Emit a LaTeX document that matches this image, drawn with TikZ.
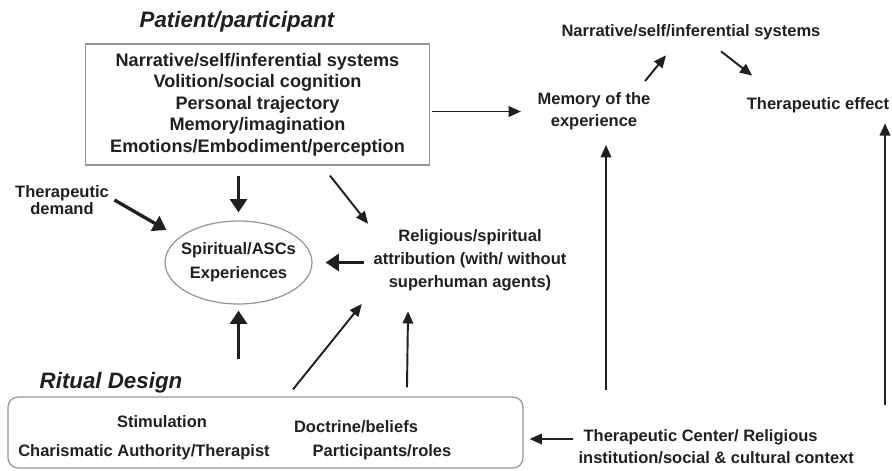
\documentclass[tikz,border=0pt]{standalone}
\usepackage{fontspec}
\setmainfont{Liberation Sans}
\usetikzlibrary{arrows.meta,shapes.geometric}
\definecolor{ink}{RGB}{35,31,32}
\definecolor{frame}{RGB}{150,150,150}

\begin{document}
\begin{tikzpicture}[x=0.02cm, y=-0.02cm, >={Triangle[length=7pt,width=6pt]},
    txt/.style={font=\fontsize{9.4}{12.7}\selectfont\bfseries, text=ink, align=center, inner sep=3pt},
    heading/.style={font=\fontsize{12.7}{15}\selectfont\bfseries\itshape, text=ink, inner sep=0pt},
    lightarrow/.style={->, draw=ink, line width=1.1pt},
    heavyarrow/.style={-{Triangle[length=7.5pt,width=9.5pt]}, draw=ink, line width=1.9pt}]

    \useasboundingbox (0,0) rectangle (892,470);

    \node[heading] (pattitle) at (237,22) {Patient/participant};

    \node[draw=frame, line width=0.7pt, minimum width=6.88cm, minimum height=2.42cm, txt,
        font=\fontsize{10.3}{12.2}\selectfont\bfseries]
        (patient) at (257.5,104.5) {Narrative/self/inferential systems\\ Volition/social cognition\\
        Personal trajectory\\ Memory/imagination\\ Emotions/Embodiment/perception};

    \node[ellipse, draw=frame, line width=0.7pt, minimum width=2.94cm, minimum height=1.66cm,
        txt, inner xsep=-0.15cm, inner ysep=0pt, font=\fontsize{9.4}{13.6}\selectfont\bfseries]
        (spirit) at (238.5,262.5) {Spiritual/ASCs\\ Experiences};

    \node[txt, font=\fontsize{9.4}{9.6}\selectfont\bfseries] (demand) at (62,200) {Therapeutic\\ demand};

    \node[txt, font=\fontsize{9.4}{13}\selectfont\bfseries] (religious) at (470,260)
        {Religious/spiritual\\ attribution (with/ without\\ superhuman agents)};

    \node[txt] (memory) at (594,111.5) {Memory of the\\ experience};
    \node[txt] (selfsys) at (691,32) {Narrative/self/inferential systems};
    \node[txt] (effect) at (818,105) {Therapeutic effect};

    \node[heading] (ritualtitle) at (111,383) {Ritual Design};

    \node[draw=frame, rounded corners=0.2cm, line width=0.7pt, minimum width=10.3cm, minimum height=1.42cm]
        (ritual) at (265.5,432.5) {};

    \node[txt] (stim) at (162,422) {Stimulation};
    \node[txt] (charisma) at (144,452) {Charismatic Authority/Therapist};
    \node[txt] (doctrine) at (356,427) {Doctrine/beliefs};
    \node[txt] (roles) at (382,452) {Participants/roles};

    \node[txt, align=left, anchor=west] (context) at (573,447)
        {\hspace*{0.1cm}Therapeutic Center/ Religious\\ institution/social \& cultural context};

    \coordinate (memfoot) at (606,390);
    \coordinate (effectfoot) at (885,405);

    \draw[heavyarrow, shorten <=0.2cm, shorten >=0.16cm] (spirit.north |- patient.south) -- (spirit.north);
    \draw[heavyarrow] (demand.east) -- ([xshift=0.04cm, yshift=0.65cm]spirit.west);
    \draw[lightarrow] ([xshift=1.45cm, yshift=-0.2cm]patient.south) -- (religious.north west);
    \draw[heavyarrow, shorten <=0.08cm, shorten >=0.26cm] (spirit.east -| religious.west) -- (spirit.east);
    \draw[heavyarrow, shorten <=0.74cm, shorten >=0.12cm] (spirit.south |- ritual.north) -- (spirit.south);
    \draw[lightarrow, shorten >=0.2cm] ([xshift=0.55cm, yshift=0.14cm]ritual.north) -- (religious.south west);
    \draw[lightarrow] ([xshift=2.83cm, yshift=0.18cm]ritual.north) -- ([xshift=0.8cm, yshift=-0.3cm]religious.south west);
    \draw[lightarrow, shorten >=0.12cm] ([yshift=0.16cm]context.west) -- ([yshift=-0.13cm]ritual.east);
    \draw[lightarrow, shorten <=0.04cm, shorten >=0.22cm] (patient.east |- memory.west) -- (memory.west);
    \draw[lightarrow] ([xshift=-0.22cm, yshift=0.12cm]memory.north east) -- ([xshift=-0.5cm, yshift=-0.2cm]selfsys.south);
    \draw[lightarrow] ([xshift=0.6cm, yshift=-0.12cm]selfsys.south) -- ([xshift=0.22cm, yshift=0.32cm]effect.north west);
    \draw[lightarrow, shorten >=0.18cm] (memfoot) -- (memfoot |- memory.south);
    \draw[lightarrow, shorten >=0.1cm] (effectfoot) -- (effectfoot |- effect.south);
\end{tikzpicture}
\end{document}
